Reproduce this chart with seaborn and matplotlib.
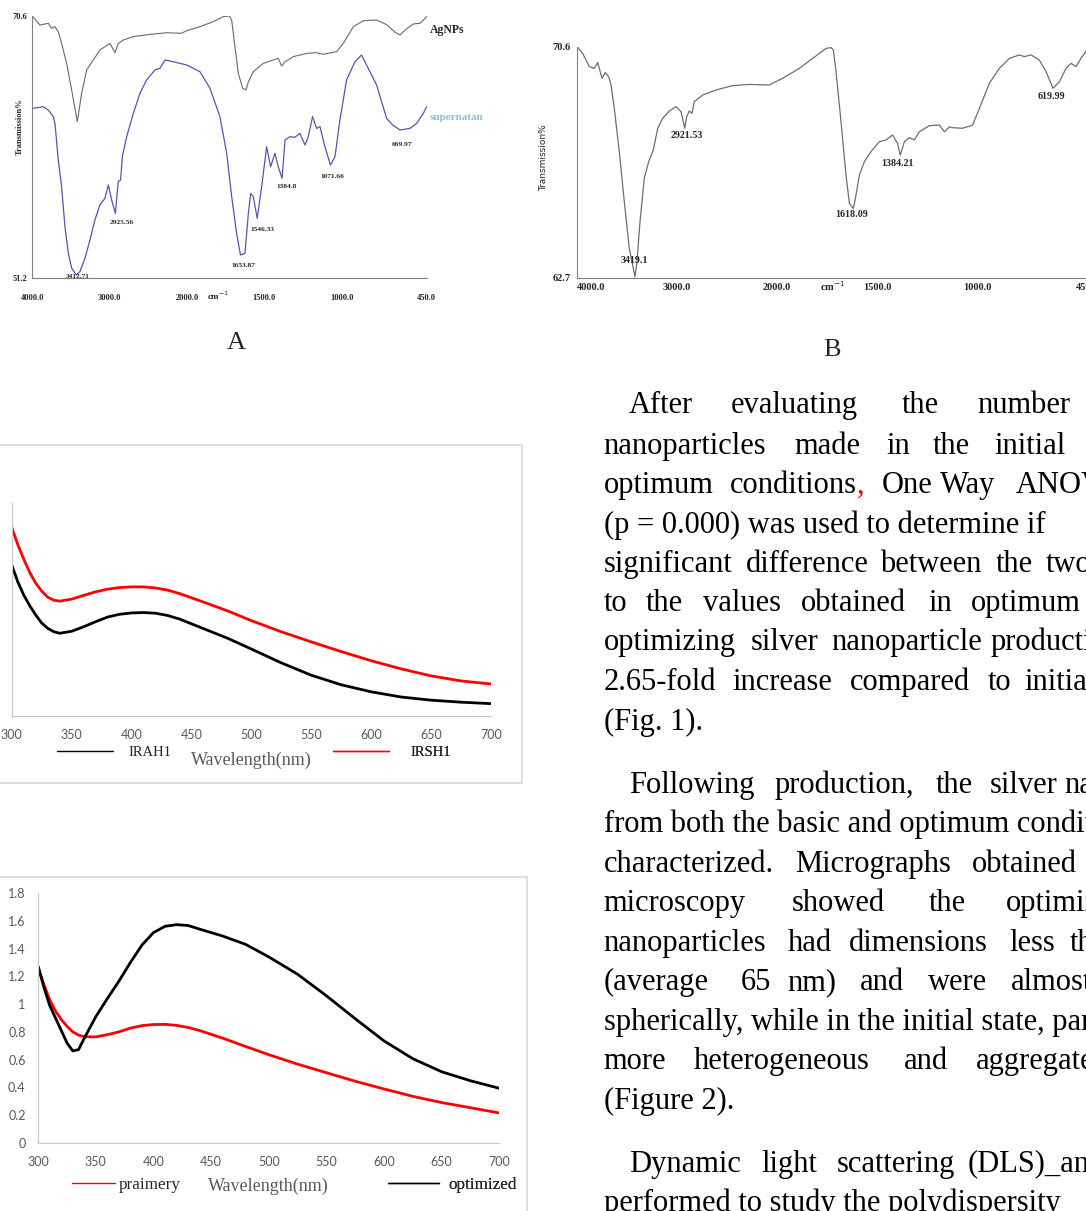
import numpy as np
import matplotlib
matplotlib.use("Agg")
import matplotlib.pyplot as plt
import seaborn as sns
from matplotlib.lines import Line2D
from matplotlib.patches import Rectangle
from matplotlib.ticker import FixedLocator

W, H = 1086, 1211

# ---------------- FTIR, panel A (cm-1, transmission %) ----------------
ag_wn = [4000, 3901, 3793, 3750, 3707, 3664, 3621, 3556, 3491, 3418, 3362, 3297, 3211, 3125, 2996,
         2931, 2888, 2823, 2694, 2478, 2263, 2069, 2004, 1916, 1830, 1765, 1726, 1711, 1690, 1668,
         1640, 1618, 1603, 1571, 1506, 1442, 1410, 1388, 1366, 1312, 1226, 1162, 1119, 1032, 989,
         924, 860, 774, 709, 655, 623, 590, 536, 493, 450]
ag_t = [70.6, 69.93, 70.06, 69.69, 69.81, 69.44, 68.57, 67.09, 65.11, 62.77, 64.87, 66.6, 67.34, 68.08, 68.57,
        67.88, 68.57, 68.82, 69.07, 69.24, 69.36, 69.32, 69.51, 69.81, 70.18, 70.55, 70.6, 70.3, 68.33, 66.35,
        65.24, 65.11, 65.73, 66.47, 67.09, 67.34, 67.46, 66.89, 67.21, 67.59, 67.83, 67.88, 67.76, 67.96, 68.57,
        69.81, 70.25, 70.3, 69.96, 69.4, 69.19, 69.56, 70.01, 70.06, 70.55]

sup_wn = [4000, 3901, 3858, 3793, 3728, 3707, 3664, 3621, 3578, 3534, 3491, 3430, 3384, 3319, 3254,
          3190, 3125, 3060, 3017, 2974, 2926, 2888, 2858, 2836, 2780, 2694, 2608, 2522, 2414, 2349,
          2284, 2177, 2004, 1916, 1851, 1787, 1743, 1711, 1679, 1654, 1625, 1603, 1588, 1571, 1546,
          1517, 1485, 1459, 1431, 1410, 1385, 1366, 1334, 1302, 1270, 1237, 1216, 1188, 1162, 1140,
          1108, 1072, 1043, 1011, 968, 914, 871, 839, 774, 709, 670, 623, 558, 515, 472, 450]
sup_t = [63.76, 63.83, 63.88, 63.63, 63.14, 62.64, 59.93, 57.95, 54.99, 53.01, 51.9, 51.4, 51.65, 52.64, 54.0,
         55.49, 56.6, 57.09, 58.08, 56.96, 55.97, 58.32, 58.45, 60.17, 61.65, 63.38, 64.87, 65.86, 66.6, 66.72,
         67.34, 67.21, 66.97, 66.47, 65.24, 63.14, 60.42, 57.21, 54.49, 52.88, 53.01, 55.97, 57.45, 57.21, 55.6,
         57.95, 60.91, 59.43, 60.42, 59.43, 58.57, 61.41, 61.65, 61.61, 61.9, 61.04, 61.65, 63.14, 62.27, 62.4,
         60.91, 59.55, 60.17, 62.89, 65.86, 67.21, 67.71, 66.97, 65.49, 63.01, 62.52, 62.15, 62.27, 62.64, 63.38,
         63.88]

a_peak_lbl = ["3412.71", "2925.56", "1653.87", "1546.33", "1384.8", "1071.66", "669.97"]
a_peak_t = [51.4, 55.97, 52.88, 55.6, 58.57, 59.55, 62.52]

# ---------------- FTIR, panel B ----------------
b_wn = [4000, 3943, 3877, 3827, 3793, 3777, 3750, 3717, 3683, 3660, 3627, 3577, 3527, 3477, 3443,
        3420, 3400, 3370, 3327, 3283, 3237, 3193, 3143, 3077, 3010, 2960, 2922, 2903, 2877, 2850,
        2827, 2743, 2610, 2443, 2277, 2077, 1972, 1888, 1822, 1755, 1730, 1718, 1705, 1680, 1655,
        1638, 1618, 1608, 1588, 1563, 1530, 1488, 1455, 1422, 1397, 1384, 1363, 1338, 1313, 1288,
        1238, 1188, 1163, 1138, 1122, 1072, 1022, 988, 938, 888, 838, 788, 763, 730, 688,
        655, 620, 588, 555, 530, 505, 480, 450]
b_t = [70.6, 70.37, 69.92, 69.86, 70.06, 69.86, 69.52, 69.72, 69.57, 69.29, 68.49, 67.01, 65.3, 63.7, 63.13,
       62.73, 63.25, 64.62, 66.1, 66.67, 67.07, 67.81, 68.15, 68.4, 68.55, 68.38, 67.81, 68.21, 68.4, 68.32,
       68.72, 68.95, 69.12, 69.27, 69.31, 69.29, 69.52, 69.86, 70.2, 70.54, 70.57, 70.49, 69.75, 68.04, 66.21,
       65.24, 65.07, 65.41, 66.21, 66.67, 67.01, 67.35, 67.41, 67.58, 67.29, 66.89, 67.35, 67.49, 67.41, 67.69,
       67.9, 67.92, 67.69, 67.86, 67.83, 67.81, 67.92, 68.49, 69.35, 69.86, 70.2, 70.32, 70.26, 70.32, 70.14,
       69.75, 69.18, 69.4, 69.86, 70.03, 69.92, 70.2, 70.5]

b_peak_lbl = ["3419.1", "2921.53", "1618.09", "1384.21", "619.99"]
b_peak_t = [62.73, 67.81, 65.07, 66.89, 69.18]

ftir_ticks = [4000, 3000, 2000, 1500, 1000, 450]
ftir_tick_lbl = ["4000.0", "3000.0", "2000.0", "1500.0", "1000.0", "450.0"]

# ---------------- UV-vis spectra ----------------
wl = [300, 305, 310, 315, 320, 325, 330, 335, 340, 350, 360, 370, 380, 390, 400,
      410, 420, 430, 440, 460, 480, 500, 525, 550, 575, 600, 625, 650, 675, 700]
irah1 = [1.136, 1.01, 0.91, 0.83, 0.76, 0.70, 0.66, 0.635, 0.623, 0.638, 0.672, 0.71, 0.745, 0.766, 0.776,
         0.779, 0.774, 0.757, 0.73, 0.658, 0.586, 0.504, 0.40, 0.307, 0.235, 0.182, 0.143, 0.119, 0.104, 0.093]
irsh1 = [1.42, 1.29, 1.18, 1.08, 1.00, 0.94, 0.895, 0.872, 0.865, 0.88, 0.908, 0.935, 0.955, 0.967, 0.972,
         0.972, 0.964, 0.948, 0.922, 0.858, 0.792, 0.718, 0.634, 0.558, 0.485, 0.416, 0.355, 0.302, 0.264, 0.241]
praimery = [1.26, 1.14, 1.03, 0.95, 0.89, 0.84, 0.80, 0.777, 0.765, 0.764, 0.78, 0.80, 0.827, 0.845, 0.853,
            0.854, 0.847, 0.832, 0.81, 0.755, 0.695, 0.636, 0.568, 0.506, 0.445, 0.389, 0.336, 0.291, 0.254, 0.216]
optimized = [1.272, 1.12, 0.99, 0.90, 0.81, 0.72, 0.663, 0.672, 0.755, 0.91, 1.04, 1.165, 1.30, 1.425, 1.515,
             1.56, 1.572, 1.566, 1.54, 1.49, 1.43, 1.34, 1.215, 1.06, 0.895, 0.735, 0.607, 0.513, 0.448, 0.394]
uv_xticks = [300, 350, 400, 450, 500, 550, 600, 650, 700]
uv2_yticks = [0, 0.2, 0.4, 0.6, 0.8, 1.0, 1.2, 1.4, 1.6, 1.8]

# ---------------- body text (justified, cut at the page edge) ----------------
body_words = [
    (413, [("After", 628.8), ("evaluating", 731), ("the", 901.5), ("number", 977.6)]),
    (454, [("nanoparticles", 603.6), ("made", 794.8), ("in", 886), ("the", 933), ("initial", 994.4)]),
    (493, [("optimum", 603.6), ("conditions,", 729.4), ("One", 881.4), ("Way", 936.7), ("ANOVA", 1015.5)]),
    (533, [("(p = 0.000) was used to determine if", 603.6)]),
    (572, [("significant", 603.6), ("difference", 746), ("between", 880), ("the", 996), ("two", 1046)]),
    (611, [("to", 603.6), ("the", 645.5), ("values", 702.6), ("obtained", 800.5), ("in", 928), ("optimum", 971)]),
    (650, [("optimizing", 603.6), ("silver", 751.2), ("nanoparticle", 831.7), ("production", 989.4)]),
    (690, [("2.65-fold", 603.6), ("increase", 732.8), ("compared", 850.2), ("to", 987.7), ("initial", 1024.6)]),
    (730, [("(Fig. 1).", 603.6)]),
    (793, [("Following", 628.8), ("production,", 774.7), ("the", 935.7), ("silver", 989.4), ("nanoparticles", 1059.8)]),
    (832, [("from both the basic and optimum conditions", 603.6)]),
    (872, [("characterized.", 603.6), ("Micrographs", 794.8), ("obtained", 972)]),
    (911, [("microscopy", 603.6), ("showed", 791.5), ("the", 929), ("optimized", 1006)]),
    (951, [("nanoparticles", 603.6), ("had", 788), ("dimensions", 848.5), ("less", 1009.5), ("than", 1069.9)]),
    (990, [("(average", 603.6), ("65", 741), ("nm)", 787.4), ("and", 860.2), ("were", 928.3), ("almost", 1011.2)]),
    (1030, [("spherically, while in the initial state, particles", 603.6)]),
    (1069, [("more", 603.6), ("heterogeneous", 694.2), ("and", 903.8), ("aggregated", 976)]),
    (1109, [("(Figure 2).", 603.6)]),
    (1172, [("Dynamic", 628.8), ("light", 761.3), ("scattering", 836.8), ("(DLS)_analysis", 967.6)]),
    (1211, [("performed to study the polydispersity", 603.6)]),
]

sns.set_style("white")
plt.rcParams["font.family"] = ["Liberation Serif", "DejaVu Serif"]

fig = plt.figure(figsize=(W / 100, H / 100), dpi=100)


def box(l, t, r, b):
    return [l / W, 1 - b / H, (r - l) / W, (b - t) / H]


def ftxt(x, y, s, **kw):
    return fig.text(x / W, 1 - y / H, s, **kw)


def fwd(w):
    w = np.asarray(w, dtype=float)
    return np.where(w >= 2000, w, 2 * w - 2000)


def inv(p):
    p = np.asarray(p, dtype=float)
    return np.where(p >= 2000, p, (p + 2000) / 2)


def style_ftir(ax, ylo, yhi, nminor, xpad, ypad, fs):
    ax.set_xscale("function", functions=(fwd, inv))
    ax.set_xlim(4000, 450)
    ax.set_ylim(ylo, yhi)
    for s in ["top", "right"]:
        ax.spines[s].set_visible(False)
    for s in ["left", "bottom"]:
        ax.spines[s].set_color("#808080")
        ax.spines[s].set_linewidth(0.8)
    ax.set_xticks(ftir_ticks)
    ax.set_xticklabels(ftir_tick_lbl, fontsize=fs, fontweight="bold")
    ax.xaxis.set_minor_locator(FixedLocator([]))
    ax.tick_params(axis="x", length=2, direction="in", color="#999999", pad=xpad)
    ax.set_yticks([ylo, yhi])
    ax.set_yticklabels([f"{ylo:.1f}", f"{yhi:.1f}"], fontsize=fs, fontweight="bold")
    ax.yaxis.set_minor_locator(FixedLocator(np.linspace(ylo, yhi, nminor)))
    ax.tick_params(axis="y", which="both", length=2.5, direction="out", color="#999999", pad=ypad)
    ax.set_xlabel("")
    ax.set_ylabel("")
    ax.set_facecolor("none")


# ---- panel A ----
axA = fig.add_axes(box(32.3, 16, 426.7, 277.7))
sns.lineplot(x=ag_wn, y=ag_t, ax=axA, color="#6a6a6a", lw=0.8, sort=False, estimator=None, errorbar=None)
sns.lineplot(x=sup_wn, y=sup_t, ax=axA, color="#5656aa", lw=0.9, sort=False, estimator=None, errorbar=None)
style_ftir(axA, 51.2, 70.6, 18, 11.5, 1, 6)
axA.text(0.471, -0.07, "cm$^{-1}$", transform=axA.transAxes, ha="center", va="center",
         fontsize=6.5, fontweight="bold")
axA.set_ylabel("Transmission%", fontsize=6, fontweight="bold", va="center")
axA.yaxis.set_label_coords(-0.031, 0.576)
a_offsets = [(0, -1), (6.6, -9.6), (2.5, -10), (5, -11.6), (5, -8.7), (1.5, -11), (9.3, -19.7)]
for lbl, t, off in zip(a_peak_lbl, a_peak_t, a_offsets):
    axA.annotate(lbl, xy=(float(lbl), t), xytext=off, textcoords="offset pixels",
                 ha="center", va="center", fontsize=5.3, fontweight="bold")
ftxt(430, 30, "AgNPs", fontsize=8.5, fontweight="bold", va="center", ha="left")
ftxt(430, 117, "supernatan", fontsize=8, fontweight="bold", va="center", ha="left", color="#8fbde0")
ftxt(236, 349, "A", fontsize=19, ha="center", va="baseline")

# ---- panel B ----
axB = fig.add_axes(box(577, 46.7, 1087, 277.7))
sns.lineplot(x=b_wn, y=b_t, ax=axB, color="#6e6e6e", lw=0.9, sort=False, estimator=None, errorbar=None)
style_ftir(axB, 62.7, 70.6, 16, 4.0, 2.0, 7.5)
axB.get_xticklabels()[0].set_ha("left")
axB.text(0.501, -0.035, "cm$^{-1}$", transform=axB.transAxes, ha="center", va="center",
         fontsize=7.5, fontweight="bold")
axB.set_ylabel("Transmission%", fontsize=6.5, va="center",
               family=["Liberation Sans Narrow", "DejaVu Sans"])
axB.yaxis.set_label_coords(-0.0647, 0.518)
b_offsets = [(-0.8, 16.8), (1.9, -7.7), (-1.4, -5.9), (-2.5, -8.1), (-2, -7.8)]
for lbl, t, off in zip(b_peak_lbl, b_peak_t, b_offsets):
    axB.annotate(lbl, xy=(float(lbl), t), xytext=off, textcoords="offset pixels",
                 ha="center", va="center", fontsize=7.2, fontweight="bold")
ftxt(832, 356, "B", fontsize=19, ha="center", va="baseline")


# ---- UV-vis charts ----
def style_uv(ax, ylim, ylabels):
    ax.set_xlim(300, 700)
    ax.set_ylim(*ylim)
    for s in ["top", "right"]:
        ax.spines[s].set_visible(False)
    for s in ["left", "bottom"]:
        ax.spines[s].set_color("#c8c8c8")
        ax.spines[s].set_linewidth(0.9)
    ax.set_xticks(uv_xticks)
    ax.set_xticklabels([str(v) for v in uv_xticks], fontsize=9, color="#595959", family="Lato")
    ax.tick_params(axis="x", length=0, pad=9.5)
    if ylabels:
        ax.set_yticks(uv2_yticks)
        ax.set_yticklabels([f"{v:g}" for v in uv2_yticks], fontsize=9, color="#595959", family="Lato")
        ax.tick_params(axis="y", length=0, pad=9)
    else:
        ax.set_yticks([])
    ax.set_facecolor("none")


def add_key(ax, color, label, x0, x1, xt, y, fs):
    em = fs * 100 / 72
    handle = Line2D([], [], color=color, lw=1.0)
    leg = ax.legend(handles=[handle], labels=[label], loc="center left",
                    bbox_to_anchor=(x0 / W, 1 - y / H), bbox_transform=fig.transFigure,
                    frameon=False, borderpad=0, borderaxespad=0,
                    handlelength=(x1 - x0) / em, handletextpad=(xt - x1) / em,
                    prop={"family": "Liberation Serif", "size": fs})
    ax.add_artist(leg)


fig.patches.append(Rectangle(((-3) / W, 1 - 783 / H), 525 / W, 338 / H, transform=fig.transFigure,
                             fill=False, ec="#d9d9d9", lw=1.2))
ax1 = fig.add_axes(box(11.8, 503.5, 491, 716))
sns.lineplot(x=wl, y=irah1, ax=ax1, color="black", lw=2.0, estimator=None, errorbar=None)
sns.lineplot(x=wl, y=irsh1, ax=ax1, color="red", lw=2.0, estimator=None, errorbar=None)
style_uv(ax1, (0, 1.6), False)
ax1.set_xlabel("Wavelength(nm)", fontsize=13, color="#595959", va="center")
ax1.xaxis.set_label_coords(0.5, -0.207)
ax1.set_ylabel("")
add_key(ax1, "black", "IRAH1", 57.5, 113, 128, 752, 10.5)
add_key(ax1, "red", "IRSH1", 333, 389, 410, 752, 10.5)

fig.patches.append(Rectangle(((-3) / W, 1 - 1230 / H), 530 / W, 353 / H, transform=fig.transFigure,
                             fill=False, ec="#d9d9d9", lw=1.2))
ax2 = fig.add_axes(box(38.2, 893, 499.3, 1143))
sns.lineplot(x=wl, y=praimery, ax=ax2, color="red", lw=2.0, estimator=None, errorbar=None)
sns.lineplot(x=wl, y=optimized, ax=ax2, color="black", lw=2.0, estimator=None, errorbar=None)
style_uv(ax2, (0, 1.8), True)
ax2.set_xlabel("Wavelength(nm)", fontsize=13, color="#595959", va="center")
ax2.xaxis.set_label_coords(0.5, -0.172)
ax2.set_ylabel("")
add_key(ax2, "red", "praimery", 72, 115, 119, 1185, 12.3)
add_key(ax2, "black", "optimized", 388, 439, 448, 1185, 12.3)

# ---- body text: words start where the page puts them, never overlapping ----
body_fs = 22
space_px = 0.25 * body_fs * 100 / 72
renderer = fig.canvas.get_renderer()
for y, words in body_words:
    prev_end = -1e9
    for word, x in words:
        x = max(x, prev_end + space_px)
        if word == "conditions," and y == 493:
            t = ftxt(x, y, word[:-1], fontsize=body_fs, ha="left", va="baseline", color="black")
            bb = t.get_window_extent(renderer=renderer)
            c = fig.text(bb.x1 / W, 1 - y / H, ",", fontsize=body_fs, ha="left", va="baseline", color="red")
            prev_end = c.get_window_extent(renderer=renderer).x1
        else:
            t = ftxt(x, y, word, fontsize=body_fs, ha="left", va="baseline", color="black")
            prev_end = t.get_window_extent(renderer=renderer).x1

fig.savefig("out.png", dpi=100)
